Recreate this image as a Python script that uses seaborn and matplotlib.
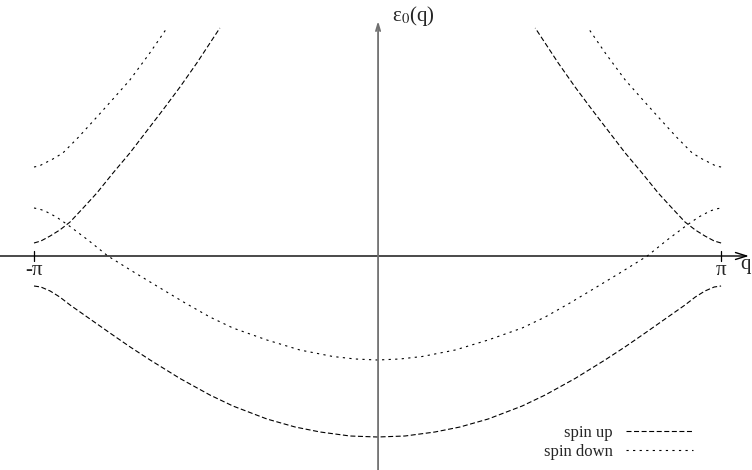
import matplotlib
matplotlib.use("Agg")
import matplotlib.pyplot as plt
from matplotlib.lines import Line2D
import numpy as np
import pandas as pd
import seaborn as sns

# q in units of pi, energy in arbitrary units
# lower bands: left half down to q = 0, mirrored to the right
q_up_low = [-1.0, -0.98, -0.953, -0.925, -0.895, -0.837, -0.779, -0.72, -0.662,
            -0.575, -0.488, -0.421, -0.322, -0.24, -0.167, -0.08, 0.0]
e_up_low = [-0.30, -0.31, -0.35, -0.41, -0.49, -0.63, -0.77, -0.91, -1.04,
            -1.225, -1.39, -1.50, -1.63, -1.71, -1.76, -1.80, -1.81]

q_dn_low = [-1.0, -0.985, -0.968, -0.935, -0.901, -0.843, -0.785, -0.71, -0.633,
            -0.56, -0.488, -0.421, -0.322, -0.226, -0.130, -0.065, 0.0]
e_dn_low = [0.48, 0.47, 0.45, 0.39, 0.31, 0.16, 0.0, -0.16, -0.32,
            -0.47, -0.61, -0.72, -0.84, -0.94, -1.005, -1.03, -1.04]

# upper (folded) branches near the zone edge, left side, mirrored to the right
q_up_high = [-1.0, -0.98, -0.953, -0.925, -0.895, -0.857, -0.817, -0.77, -0.721,
             -0.673, -0.625, -0.575, -0.526, -0.459]
e_up_high = [0.13, 0.15, 0.20, 0.26, 0.34, 0.48, 0.63, 0.83, 1.03,
             1.245, 1.46, 1.69, 1.93, 2.28]

q_dn_high = [-1.0, -0.985, -0.968, -0.945, -0.916, -0.87, -0.817, -0.77, -0.721,
             -0.665, -0.613]
e_dn_high = [0.89, 0.90, 0.93, 0.97, 1.03, 1.19, 1.39, 1.57, 1.76,
             2.02, 2.28]

spin_labels = ["spin up", "spin down"]
tick_labels = ["-π", "π"]


def mirror(q, e):
    q = np.asarray(q)
    e = np.asarray(e)
    # lower band: join left half and its mirror image
    return np.concatenate([q, -q[::-1][1:]]), np.concatenate([e, e[::-1][1:]])


rows = []
def add(q, e, spin, branch):
    for a, b in zip(q, e):
        rows.append({"q": a, "E": b, "spin": spin, "branch": branch})

q, e = mirror(q_up_low, e_up_low)
add(q, e, "spin up", "up_low")
q, e = mirror(q_dn_low, e_dn_low)
add(q, e, "spin down", "dn_low")
add(q_up_high, e_up_high, "spin up", "up_left")
add(-np.asarray(q_up_high), e_up_high, "spin up", "up_right")
add(q_dn_high, e_dn_high, "spin down", "dn_left")
add(-np.asarray(q_dn_high), e_dn_high, "spin down", "dn_right")
df = pd.DataFrame(rows)

sns.set_style("white")
plt.rcParams["font.family"] = ["Liberation Serif", "DejaVu Serif"]
plt.rcParams["mathtext.fontset"] = "stix"

dash_style = {"spin up": (0, (4.5, 2.3)), "spin down": (0, (2.0, 3.9))}

fig = plt.figure(figsize=(7.52, 4.70), dpi=100)
ax = fig.add_axes([0, 0, 1, 1])

for branch, sub in df.groupby("branch"):
    spin = sub["spin"].iloc[0]
    sns.lineplot(data=sub, x="q", y="E", sort=False, estimator=None,
                 color="black", linewidth=0.8, ax=ax,
                 linestyle=dash_style[spin])

ax.set_xlim(-1.099, 1.090)
ax.set_ylim(-2.14, 2.56)
ax.set_axis_off()

# coordinate axes with open arrow heads
ax.annotate("", xy=(1.081, 0), xytext=(-1.099, 0),
            arrowprops=dict(arrowstyle="->,head_length=0.8,head_width=0.25",
                            color="black", lw=1.0, shrinkA=0, shrinkB=0))
ax.annotate("", xy=(0.0015, 2.35), xytext=(0.0015, -2.14),
            arrowprops=dict(arrowstyle="->,head_length=0.5,head_width=0.15",
                            color="#707070", lw=1.3, shrinkA=0, shrinkB=0))

# ticks at +-pi
for xt, lab in zip([-1.0, 1.0], tick_labels):
    ax.plot([xt, xt], [-0.05, 0.05], color="black", lw=0.9)
    ax.text(xt, -0.05, lab, ha="center", va="top", fontsize=15)

ax.text(1.086, -0.08, "q", ha="right", va="center", fontsize=15)
ax.text(0.042, 2.40, "ε$_0$(q)", ha="left", va="center", fontsize=15)

handles = [Line2D([], [], color="black", lw=0.8, linestyle=dash_style[s], label=s)
           for s in spin_labels]
ax.legend(handles=handles, loc="center right", markerfirst=False, frameon=False,
          bbox_to_anchor=(693 / 752, 27.5 / 470), bbox_transform=fig.transFigure,
          borderpad=0, borderaxespad=0, handlelength=4.0, handletextpad=0.8,
          labelspacing=0.15, fontsize=12)

fig.savefig("out.png", dpi=100)
